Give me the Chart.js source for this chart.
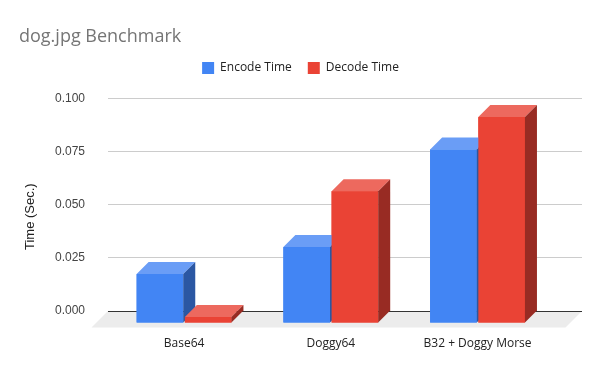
<!DOCTYPE html>
<html>
<head>
<meta charset="utf-8">
<title>dog.jpg Benchmark</title>
<script src="https://cdn.jsdelivr.net/npm/chart.js@4.4.1/dist/chart.umd.min.js"></script>
<style>
  html, body { margin: 0; padding: 0; background: #ffffff; }
</style>
</head>
<body>
<canvas id="chart" width="600" height="371"></canvas>
<script>
// Chart data
const categories = ['Base64', 'Doggy64', 'B32 + Doggy Morse'];
const encodeTime = [0.023, 0.0357, 0.0816];
const decodeTime = [0.0028, 0.062, 0.0968];
const yTicks = [0, 0.025, 0.05, 0.075, 0.1];

// 3D look
const DEPTH = 12;       // bar depth (px)
const FLOOR = 16.5;     // floor depth (px)
const LEGEND_GAP = 14.3;
const faceColors = [
  { front: '#4285f4', top: '#6a9df6', side: '#2b57a3' },
  { front: '#ea4335', top: '#ed695e', side: '#982b23' }
];

const textFont = "'Open Sans', sans-serif";
const axisFont = "'Liberation Sans', Arial, sans-serif";

// Floor under the bars + front offset for the bars
const threeD = {
  id: 'threeD',
  afterInit(chart) {
    const legend = chart.legend;
    const fit = legend.fit;
    legend.fit = function () {
      fit.call(this);
      this.height += LEGEND_GAP;
    };
  },
  beforeDraw(chart) {
    const { ctx, chartArea } = chart;
    const y0 = chart.scales.y.getPixelForValue(0);
    ctx.save();
    ctx.fillStyle = '#ececec';
    ctx.beginPath();
    ctx.moveTo(chartArea.left, y0);
    ctx.lineTo(chartArea.right, y0);
    ctx.lineTo(chartArea.right - FLOOR, y0 + FLOOR);
    ctx.lineTo(chartArea.left - FLOOR, y0 + FLOOR);
    ctx.closePath();
    ctx.fill();
    ctx.restore();
  },
  beforeDatasetsDraw(chart) {
    chart.ctx.save();
    chart.ctx.translate(-DEPTH, DEPTH);
  },
  afterDatasetsDraw(chart) {
    const ctx = chart.ctx;
    ctx.restore();
    const n = categories.length;
    for (let i = 0; i < n; i++) {
      chart.data.datasets.forEach((ds, d) => {
        const el = chart.getDatasetMeta(d).data[i];
        const { x, y, base, width } = el.getProps(['x', 'y', 'base', 'width'], true);
        const c = faceColors[d];
        const l = x - width / 2 - DEPTH, r = x + width / 2 - DEPTH;
        const t = y + DEPTH, b = base + DEPTH;
        // front
        ctx.fillStyle = c.front;
        ctx.fillRect(l, t, r - l, b - t);
        // top
        ctx.fillStyle = c.top;
        ctx.beginPath();
        ctx.moveTo(l, t);
        ctx.lineTo(l + DEPTH, t - DEPTH);
        ctx.lineTo(r + DEPTH, t - DEPTH);
        ctx.lineTo(r, t);
        ctx.closePath();
        ctx.fill();
        // side
        ctx.fillStyle = c.side;
        ctx.beginPath();
        ctx.moveTo(r, t);
        ctx.lineTo(r + DEPTH, t - DEPTH);
        ctx.lineTo(r + DEPTH, b - DEPTH);
        ctx.lineTo(r, b);
        ctx.closePath();
        ctx.fill();
      });
    }
  },
  afterDraw(chart) {
    // y axis title, centred on the front plane
    const { ctx } = chart;
    const ys = chart.scales.y;
    ctx.save();
    ctx.translate(30.5, (ys.top + ys.bottom) / 2 + DEPTH);
    ctx.rotate(-Math.PI / 2);
    ctx.font = '13px ' + axisFont;
    ctx.fillStyle = '#222222';
    ctx.textAlign = 'center';
    ctx.textBaseline = 'middle';
    ctx.fillText('Time (Sec.)', 0, 0);
    ctx.restore();
  }
};

const ctx = document.getElementById('chart').getContext('2d');
new Chart(ctx, {
  type: 'bar',
  data: {
    datasets: [
      {
        label: 'Encode Time',
        data: encodeTime.map((v, i) => ({ x: i, y: v })),
        backgroundColor: faceColors[0].front,
        clip: false
      },
      {
        label: 'Decode Time',
        data: decodeTime.map((v, i) => ({ x: i, y: v })),
        backgroundColor: faceColors[1].front,
        clip: false
      }
    ]
  },
  options: {
    responsive: false,
    animation: false,
    categoryPercentage: 0.657,
    barPercentage: 0.967,
    layout: { padding: { left: 19, right: 18, top: 0, bottom: 0 } },
    plugins: {
      tooltip: { enabled: false },
      title: {
        display: true,
        text: 'dog.jpg Benchmark',
        align: 'start',
        color: '#757575',
        font: { family: textFont, size: 18, weight: 'normal', lineHeight: 1 },
        padding: { top: 28, bottom: 0 }
      },
      legend: {
        display: true,
        position: 'top',
        labels: {
          color: '#222222',
          font: { family: textFont, size: 12 },
          boxWidth: 12,
          boxHeight: 12,
          padding: 16
        }
      }
    },
    scales: {
      x: {
        type: 'linear',
        min: -0.6,
        max: 2.63,
        offset: false,
        afterBuildTicks: s => { s.ticks = categories.map((c, i) => ({ value: i })); },
        afterFit: s => { s.height = 60; },
        grid: { display: false, drawTicks: false },
        border: { display: false },
        ticks: {
          callback: v => categories[v],
          labelOffset: -DEPTH,
          padding: 25,
          maxRotation: 0,
          autoSkip: false,
          color: '#222222',
          font: { family: textFont, size: 12 }
        }
      },
      y: {
        min: 0,
        max: 0.1,
        afterBuildTicks: s => { s.ticks = yTicks.map(v => ({ value: v })); },
        afterFit: s => { s.width = 89; },
        grid: {
          drawTicks: false,
          color: c => (c.tick && c.tick.value === 0 ? '#333333' : '#cccccc')
        },
        border: { display: false },
        ticks: {
          callback: v => v.toFixed(3),
          padding: 23,
          color: '#444444',
          font: { family: axisFont, size: 12 }
        }
      }
    }
  },
  plugins: [threeD]
});
</script>
</body>
</html>
